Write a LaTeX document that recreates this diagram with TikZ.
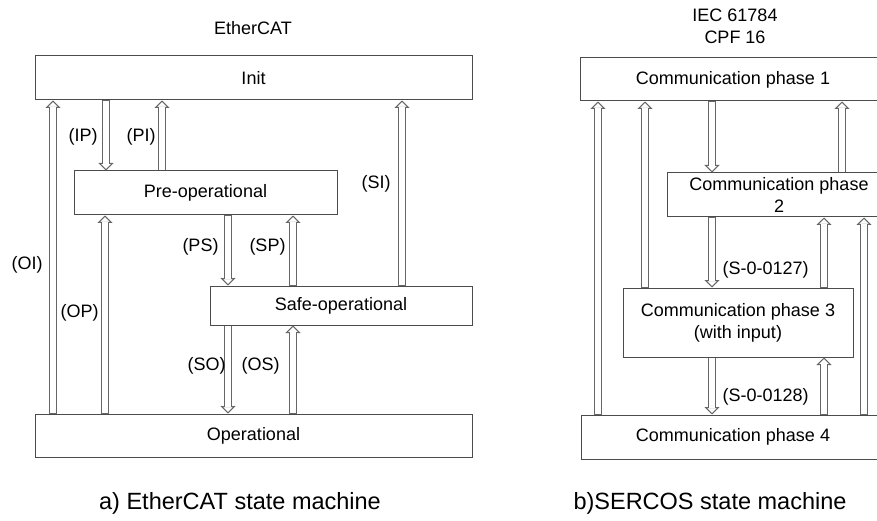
\documentclass[tikz,border=0pt]{standalone}
\usepackage{fontspec}
\setmainfont{Liberation Sans}
\usetikzlibrary{arrows.meta}
\begin{document}
\begin{tikzpicture}[x=1pt, y=-1pt, font=\fontsize{18}{22}\selectfont,
 state/.style={draw=black!70, line width=1pt, inner sep=0pt, align=center},
 trans/.style={draw=black!60, line width=1pt, -{Triangle[length=7.5pt, width=15pt, fill=white]},
  postaction={draw=black!60, line width=7.6pt, -, shorten >=6.5pt},
  postaction={draw=white, line width=5.6pt, -, shorten >=6.5pt, shorten <=0.6pt}},
 lbl/.style={inner sep=0pt, anchor=east},
 caption/.style={font=\fontsize{23.5}{28}\selectfont}]
 \clip (0,0) rectangle (877,521);
 % a) EtherCAT
 \node (ecat) at (253,28) {EtherCAT};
 \node[state, minimum width=437pt, minimum height=44pt] (init) at (253.5,78) {Init};
 \node[state, minimum width=263pt, minimum height=44pt] (pre) at (205.5,193) {Pre-operational};
 \node[state, minimum width=262pt, minimum height=39pt] (safe) at (341,305.5) {Safe-operational};
 \node[state, minimum width=437pt, minimum height=43pt] (oper) at (253.5,435.5) {Operational};
 \draw[trans] (53,0 |- oper.north) -- node[lbl, pos=0.475, xshift=-10pt] {(OI)} (53,0 |- init.south);
 \draw[trans] (105,0 |- oper.north) -- node[lbl, pos=0.51, xshift=-6pt] {(OP)} (105,0 |- pre.south);
 \draw[trans] (106,0 |- init.south) -- node[lbl, pos=0.52, xshift=-8pt] {(IP)} (106,0 |- pre.north);
 \draw[trans] (162,0 |- pre.north) -- node[lbl, pos=0.48, xshift=-6pt] {(PI)} (162,0 |- init.south);
 \draw[trans] (228,0 |- pre.south) -- node[lbl, pos=0.45, xshift=-9pt] {(PS)} (228,0 |- safe.north);
 \draw[trans] (293,0 |- safe.north) -- node[lbl, pos=0.55, xshift=-7pt] {(SP)} (293,0 |- pre.south);
 \draw[trans] (402,0 |- safe.north) -- node[lbl, pos=0.55, xshift=-11pt] {(SI)} (402,0 |- init.south);
 \draw[trans] (228,0 |- safe.south) -- node[lbl, pos=0.46, xshift=-2pt] {(SO)} (228,0 |- oper.north);
 \draw[trans] (293,0 |- oper.north) -- node[lbl, pos=0.54, xshift=-13pt] {(OS)} (293,0 |- safe.south);
 \node[caption] (capa) at (240,503) {a) EtherCAT state machine};
 % b) SERCOS
 \node[align=center] (iec) at (735,26) {IEC 61784\\CPF 16};
 \node[state, minimum width=306pt, minimum height=43pt] (cp1) at (733,79.5) {Communication phase 1};
 \node[state, minimum width=224pt, minimum height=44pt] (cp2) at (779,195) {Communication phase\\2};
 \node[state, minimum width=230pt, minimum height=69pt] (cp3) at (738,322.5) {Communication phase 3\\(with input)};
 \node[state, minimum width=304pt, minimum height=44pt] (cp4) at (733,437) {Communication phase 4};
 \draw[trans] (598,0 |- cp4.north) -- (598,0 |- cp1.south);
 \draw[trans] (645,0 |- cp3.north) -- (645,0 |- cp1.south);
 \draw[trans] (712,0 |- cp1.south) -- (712,0 |- cp2.north);
 \draw[trans] (842,0 |- cp2.north) -- (842,0 |- cp1.south);
 \draw[trans] (712,0 |- cp2.south) -- node[lbl, pos=0.75, anchor=west, xshift=10pt] {(S-0-0127)} (712,0 |- cp3.north);
 \draw[trans] (824,0 |- cp3.north) -- (824,0 |- cp2.south);
 \draw[trans] (864,0 |- cp4.north) -- (864,0 |- cp2.south);
 \draw[trans] (712,0 |- cp3.south) -- node[lbl, pos=0.69, anchor=west, xshift=10pt] {(S-0-0128)} (712,0 |- cp4.north);
 \draw[trans] (824,0 |- cp4.north) -- (824,0 |- cp3.south);
 \node[caption] (capb) at (710,503) {b)SERCOS state machine};
\end{tikzpicture}
\end{document}
